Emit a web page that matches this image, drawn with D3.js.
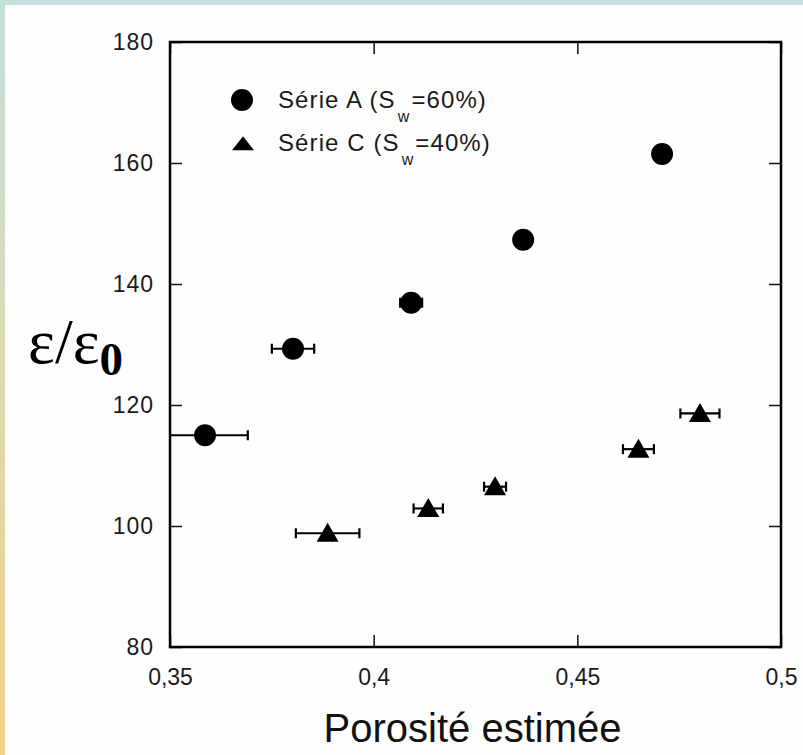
<!DOCTYPE html>
<html><head><meta charset="utf-8">
<script src="https://cdn.jsdelivr.net/npm/d3@7"></script>
<style>html,body{margin:0;padding:0;background:#fff;}svg{display:block;}</style>
</head><body>
<script>
// ---- data ----
const seriesA_x = [0.3586, 0.3802, 0.4092, 0.4367, 0.4708];
const seriesA_y = [115.0, 129.3, 136.9, 147.3, 161.5];
const seriesA_err = [0.0105, 0.0052, 0.0027, 0.0, 0.0];
const seriesC_x = [0.3887, 0.4134, 0.4298, 0.4650, 0.4801];
const seriesC_y = [98.8, 102.9, 106.5, 112.7, 118.6];
const seriesC_err = [0.0078, 0.0036, 0.0027, 0.0038, 0.0048];
const xTicks = [0.35, 0.4, 0.45, 0.5];
const xTickLabels = ["0,35", "0,4", "0,45", "0,5"];
const yTicks = [80, 100, 120, 140, 160, 180];
const legendLabels = [["Série A (S", "w", "=60%)"], ["Série C (S", "w", "=40%)"]];

const W = 803, H = 755;
const m = {left: 170, top: 42, right: 22, bottom: 108};
const svg = d3.select("body").append("svg").attr("width", W).attr("height", H);

// background frame
const defs = svg.append("defs");
const lg = defs.append("linearGradient").attr("id","leftg").attr("x1",0).attr("y1",0).attr("x2",0).attr("y2",1);
lg.append("stop").attr("offset","0%").attr("stop-color","#c3e0dc");
lg.append("stop").attr("offset","100%").attr("stop-color","#f6d088");
svg.append("rect").attr("width",W).attr("height",H).attr("fill","#fefefe");
svg.append("rect").attr("x",0).attr("y",0).attr("width",W).attr("height",5).attr("fill","#c3e0dc");
svg.append("rect").attr("x",0).attr("y",0).attr("width",5).attr("height",H).attr("fill","url(#leftg)");

const x = d3.scaleLinear().domain([0.35, 0.5]).range([m.left, W - m.right]);
const y = d3.scaleLinear().domain([80, 180]).range([H - m.bottom, m.top]);

const tickLen = 12;
const fmt = (d) => xTickLabels[xTicks.indexOf(d)];
const axB = svg.append("g").attr("transform", `translate(0,${y(80)})`)
  .call(d3.axisBottom(x).tickValues(xTicks).tickSize(-tickLen).tickPadding(22).tickFormat(fmt));
const axT = svg.append("g").attr("transform", `translate(0,${y(180)})`)
  .call(d3.axisTop(x).tickValues(xTicks).tickSize(-tickLen).tickFormat(""));
const axL = svg.append("g").attr("transform", `translate(${x(0.35)},0)`)
  .call(d3.axisLeft(y).tickValues(yTicks).tickSize(-tickLen).tickPadding(16));
const axR = svg.append("g").attr("transform", `translate(${x(0.5)},0)`)
  .call(d3.axisRight(y).tickValues(yTicks).tickSize(-tickLen).tickFormat(""));
[axB, axT, axL, axR].forEach(g => {
  g.select(".domain").remove();
  g.selectAll(".tick line").attr("stroke", "#111").attr("stroke-width", 1.5);
  g.selectAll("text").attr("font-family", "Liberation Sans, Arial, sans-serif").attr("font-size", 23).attr("fill", "#1a1a1a");
});
axL.selectAll("text").attr("letter-spacing", 1);
// frame
svg.append("rect").attr("x", x(0.35)).attr("y", y(180)).attr("width", x(0.5) - x(0.35)).attr("height", y(80) - y(180))
  .attr("fill", "none").attr("stroke", "#000").attr("stroke-width", 2.5);

// clip
defs.append("clipPath").attr("id","plotclip").append("rect")
  .attr("x", x(0.35)).attr("y", y(180)).attr("width", x(0.5) - x(0.35)).attr("height", y(80) - y(180));
const plot = svg.append("g").attr("clip-path","url(#plotclip)");

function errBars(xs, ys, es) {
  const data = xs.map((d,i)=>({x:d, y:ys[i], e:es[i]})).filter(d=>d.e>0);
  const g = plot.append("g").attr("stroke","#000").attr("stroke-width",2.2);
  g.selectAll("line.h").data(data).join("line")
    .attr("x1", d=>x(d.x-d.e)).attr("x2", d=>x(d.x+d.e)).attr("y1", d=>y(d.y)).attr("y2", d=>y(d.y));
  g.selectAll("line.l").data(data).join("line")
    .attr("x1", d=>x(d.x-d.e)).attr("x2", d=>x(d.x-d.e)).attr("y1", d=>y(d.y)-5).attr("y2", d=>y(d.y)+5);
  g.selectAll("line.r").data(data).join("line")
    .attr("x1", d=>x(d.x+d.e)).attr("x2", d=>x(d.x+d.e)).attr("y1", d=>y(d.y)-5).attr("y2", d=>y(d.y)+5);
}
errBars(seriesA_x, seriesA_y, seriesA_err);
errBars(seriesC_x, seriesC_y, seriesC_err);

plot.append("g").selectAll("circle").data(seriesA_x.map((d,i)=>[d, seriesA_y[i]])).join("circle")
  .attr("cx", d=>x(d[0])).attr("cy", d=>y(d[1])).attr("r", 11).attr("fill","#000");

const tri = (w, h) => `M0,${-h*0.55}L${w/2},${h*0.45}L${-w/2},${h*0.45}Z`;
plot.append("g").selectAll("path").data(seriesC_x.map((d,i)=>[d, seriesC_y[i]])).join("path")
  .attr("transform", d=>`translate(${x(d[0])},${y(d[1])})`).attr("d", tri(22, 19)).attr("fill","#000");

// legend
const leg = svg.append("g").attr("font-family","Liberation Sans, Arial, sans-serif").attr("fill","#1a1a1a");
const legY = [100, 143];
leg.append("circle").attr("cx", 242).attr("cy", legY[0]).attr("r", 11).attr("fill","#000");
leg.append("path").attr("transform", `translate(243,${legY[1]+1})`).attr("d", tri(22, 14)).attr("fill","#000");
legendLabels.forEach((lab, i) => {
  const t = leg.append("text").attr("x", 278).attr("y", legY[i] + 8).attr("font-size", 24).attr("letter-spacing", 1.1);
  t.append("tspan").text(lab[0]);
  t.append("tspan").attr("dy", 14).attr("dx", 2).attr("font-size", 16).text(lab[1]);
  t.append("tspan").attr("dy", -14).attr("dx", 1).text(lab[2]);
});

// axis titles
const yt = svg.append("text").attr("x", 28).attr("y", 363)
  .attr("font-family","Liberation Serif, Times New Roman, serif").attr("font-size", 64).attr("fill","#000");
yt.append("tspan").text("ε/ε");
yt.append("tspan").attr("dy", 12).attr("font-size", 47).attr("font-weight","bold").text("0");

svg.append("text").attr("x", (x(0.35)+x(0.5))/2 - 3).attr("y", 742).attr("text-anchor","middle")
  .attr("font-family","Liberation Sans, Arial, sans-serif").attr("font-size", 40).attr("fill","#111")
  .text("Porosité estimée");
</script>
</body></html>
